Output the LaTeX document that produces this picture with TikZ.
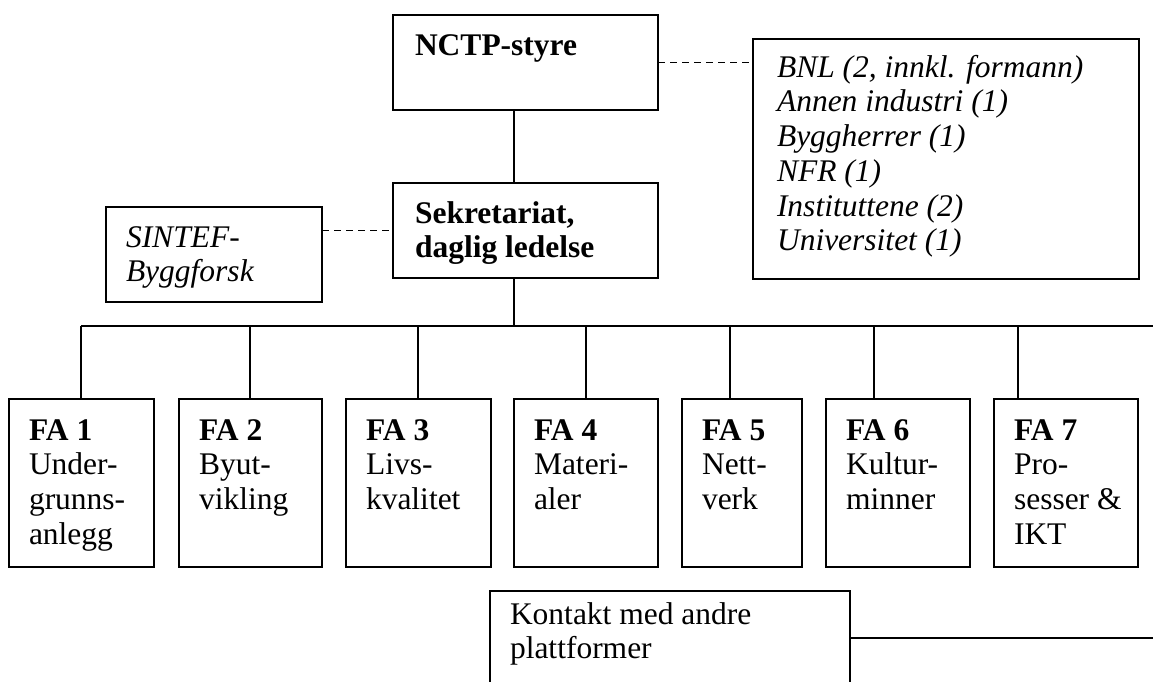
\documentclass[tikz,border=0pt]{standalone}
\usepackage{fontspec}
\setmainfont{Liberation Serif}
\newcommand{\mkbox}[5]{\node[box, minimum width={(#4-#2)*0.4pt}, minimum height={(#5-#3)*0.4pt}] (#1) at (#2,#3) {};}
\newcommand{\lns}[1]{\begin{tabular}[t]{@{}l@{}}#1\end{tabular}}
\begin{document}
\begin{tikzpicture}[x=0.4pt,y=-0.4pt,
  font=\fontsize{12.6}{13.9}\selectfont,
  box/.style={draw, line width=0.8pt, inner sep=0pt, outer sep=0pt, anchor=north west},
  txt/.style={anchor=base west, inner sep=0pt, outer sep=0pt},
  link/.style={line width=0.7pt},
  bus/.style={line width=0.9pt},
  dashlink/.style={line width=0.75pt, dash pattern=on 2.8pt off 2pt}]
\useasboundingbox (0,0) rectangle (1153,681);
\clip (0,0) rectangle (1153,681);

% boxes
\mkbox{nctp}{393}{15}{658}{110}
\mkbox{board}{753}{39}{1139}{279}
\mkbox{sek}{393}{183}{658}{278}
\mkbox{sintef}{106}{207}{322}{302}
\mkbox{fa1}{9}{399}{154}{567}
\mkbox{fa2}{179}{399}{322}{567}
\mkbox{fa3}{346}{399}{491}{567}
\mkbox{fa4}{514}{399}{658}{567}
\mkbox{fa5}{682}{399}{802}{567}
\mkbox{fa6}{826}{399}{970}{567}
\mkbox{fa7}{994}{399}{1138}{567}
\mkbox{kontakt}{490}{591}{850}{720}

% texts
\node[txt] (tnctp) at (415,55) {\bfseries NCTP-styre};
\node[txt] (tboard) at (777,77) {\itshape\lns{BNL (2, innkl. formann)\\ Annen industri (1)\\ Byggherrer (1)\\ NFR (1)\\ Instituttene (2)\\ Universitet (1)}};
\node[txt] (tsek) at (415,223) {\bfseries\lns{Sekretariat,\\ daglig ledelse}};
\node[txt] (tsintef) at (126,247) {\itshape\lns{SINTEF-\\ Byggforsk}};
\node[txt] (tfa1) at (29,440) {\lns{\textbf{FA 1}\\ Under-\\ grunns-\\ anlegg}};
\node[txt] (tfa2) at (199,440) {\lns{\textbf{FA 2}\\ Byut-\\ vikling}};
\node[txt] (tfa3) at (366,440) {\lns{\textbf{FA 3}\\ Livs-\\ kvalitet}};
\node[txt] (tfa4) at (534,440) {\lns{\textbf{FA 4}\\ Materi-\\ aler}};
\node[txt] (tfa5) at (702,440) {\lns{\textbf{FA 5}\\ Nett-\\ verk}};
\node[txt] (tfa6) at (846,440) {\lns{\textbf{FA 6}\\ Kultur-\\ minner}};
\node[txt] (tfa7) at (1014,440) {\lns{\textbf{FA 7}\\ Pro-\\ sesser \&\\ IKT}};
\node[txt] (tkontakt) at (510,624) {\lns{Kontakt med andre\\ plattformer}};

% connectors
\coordinate (spine) at (514,0);
\coordinate (b1) at (81,326);
\coordinate (b2) at (250,326);
\coordinate (b3) at (418,326);
\coordinate (b4) at (586,326);
\coordinate (b5) at (730,326);
\coordinate (b6) at (874,326);
\coordinate (b7) at (1018,326);
\coordinate (busend) at (1165,326);
\coordinate (kend) at (1165,638);

\draw[dashlink] (nctp.east) -- (nctp.east -| board.west);
\draw[dashlink] (sintef.east |- sek.west) -- (sek.west);
\draw[link] (nctp.south -| spine) -- (sek.north -| spine);
\draw[link] (sek.south -| spine) -- (spine |- b1);
\draw[bus] (b1) -- (busend);
\foreach \i in {1,...,7} {\draw[link] (b\i) -- (b\i |- fa\i.north);}
\draw[link] (kontakt.east |- kend) -- (kend);
\end{tikzpicture}
\end{document}
